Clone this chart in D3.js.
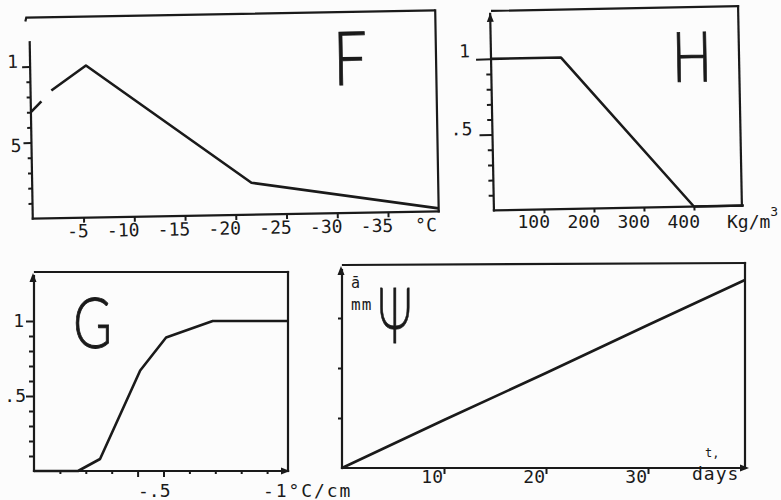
<!DOCTYPE html>
<html><head><meta charset="utf-8">
<script src="https://cdn.jsdelivr.net/npm/d3@7"></script>
<style>
html,body{margin:0;padding:0;background:#fcfcfc;}
svg{display:block;}
text{font-family:"DejaVu Sans Mono",monospace;fill:#1a1a1a;font-size:18px;}
</style></head><body>
<svg id="c" width="781" height="500"></svg>
<script>
// ---- Panel F : factor vs temperature ----
const fTemp   = [0, -1.05, -1.5, -2.05, -5.5, -21.6, -40];
const fFactor = [0.70, 0.77, null, 0.84, 1.0, 0.21, 0.02];
const fXTicks = [-5, -10, -15, -20, -25, -30, -35];
const fXTickLabels = ["-5", "-10", "-15", "-20", "-25", "-30", "-35"];
const fXUnit = "°C";
const fYTicks = [1, 0.5];
const fYTickLabels = ["1", "5"];
// ---- Panel H : factor vs density ----
const hDensity = [0, 140, 400, 500];
const hFactor  = [1, 1, 0, 0];
const hXTicks = [100, 200, 300, 400];
const hXTickLabels = ["100", "200", "300", "400"];
const hYTicks = [1, 0.5];
const hYTickLabels = ["1", ".5"];
// ---- Panel G : factor vs temperature gradient ----
const gGrad   = [0, 0.17, 0.255, 0.41, 0.51, 0.69, 0.98];
const gFactor = [0, 0, 0.08, 0.67, 0.89, 1.0, 1.0];
const gYTicks = [1, 0.5];
const gYTickLabels = ["1", ".5"];
const gXTickLabels = ["-.5"];
// ---- Panel Psi : mean grain size vs days ----
const pDays = [0, 10, 20, 30, 39.5];
const pSize = [0, 0.96, 1.9, 2.86, 3.76];
const pXTicks = [10, 20, 30];
const pXTickLabels = ["10", "20", "30"];
const pYTicks = [1, 2, 3];

const ink = "#1a1a1a";
const svg = d3.select("#c");

function tidy(sel){
  sel.select(".domain").remove();
  sel.selectAll(".tick text").remove();
  sel.selectAll(".tick line").attr("stroke",ink).attr("stroke-width",2);
}
function seg(g,x1,y1,x2,y2){
  return g.append("line").attr("x1",x1).attr("y1",y1).attr("x2",x2).attr("y2",y2)
    .attr("stroke",ink).attr("stroke-width",2.2).attr("stroke-linecap","square");
}
// arrowhead with tip at (x,y), pointing "up" or "right"
function arrowHead(g,x,y,dir){
  const L = 9, W = 3.5;
  const d = dir==="up"
    ? `M${x},${y}L${x-W},${y+L}L${x+W},${y+L}Z`
    : `M${x},${y}L${x-L},${y-W}L${x-L},${y+W}Z`;
  g.append("path").attr("d",d).attr("fill",ink);
}
function txt(g,x,y,s,anchor){
  return g.append("text").attr("x",x).attr("y",y).attr("text-anchor",anchor||"start").text(s);
}
function bigLetter(g,x,y,s,size,sx){
  return g.append("text").attr("transform",`translate(${x},${y}) scale(${sx},1)`)
    .style("font-family","Lato, 'DejaVu Sans', sans-serif").style("font-weight",300)
    .style("font-size",size+"px").style("fill",ink)
    .attr("stroke",ink).attr("stroke-width",0.9).text(s);
}
const minorTenths = d3.range(1,10).filter(i=>i!==5).map(i=>i/10);

// ================= F =================
{
  const g = svg.append("g").attr("transform","rotate(-1,233,115)");
  const x = d3.scaleLinear().domain([0,-40]).range([31,437]);
  const y = d3.scaleLinear().domain([0,1]).range([215,63]);
  seg(g,x(0),y(0),x(-40),y(0));
  seg(g,x(0),y(0),x(0),y(1.16));
  seg(g,x(-40),y(0),x(-40),14);
  g.append("path").attr("d",`M27,18L28,14H${x(-40)}`).attr("fill","none").attr("stroke",ink).attr("stroke-width",2.2);
  g.append("g").attr("transform",`translate(${x(0)},0)`).call(d3.axisLeft(y).tickValues(minorTenths).tickSize(4)).call(tidy);
  g.append("g").attr("transform",`translate(${x(0)},0)`).call(d3.axisLeft(y).tickValues(fYTicks).tickSize(8)).call(tidy);
  g.append("g").attr("transform",`translate(0,${y(0)})`).call(d3.axisBottom(x).tickValues(fXTicks).tickSize(5)).call(tidy);
  fXTicks.forEach((t,i)=>txt(g,x(t)+5,y(0)+19.5,fXTickLabels[i],"end"));
  txt(g,x(-40)-2,y(0)+19.5,fXUnit,"end");
  txt(g,19,y(fYTicks[0])+1,fYTickLabels[0],"end");
  txt(g,21,y(fYTicks[1])+9,fYTickLabels[1],"end");
  const line = d3.line().defined(d=>d[1]!=null).x(d=>x(d[0])).y(d=>y(d[1]));
  g.append("path").datum(fTemp.map((t,i)=>[t,fFactor[i]])).attr("d",line)
    .attr("fill","none").attr("stroke",ink).attr("stroke-width",2.6).attr("stroke-linejoin","round");
  bigLetter(g,334,87,"F",75,0.8);
}

// ================= H =================
{
  const g = svg.append("g").attr("transform","rotate(-1.1,615,108)");
  const x = d3.scaleLinear().domain([0,500]).range([492,742]);
  const y = d3.scaleLinear().domain([0,1]).range([208,56.5]);
  const right = 740, top = 8.5;
  seg(g,x(0),y(0),right,y(0));
  seg(g,x(0),y(0),x(0),top+3);
  arrowHead(g,x(0),top+2,"up");
  seg(g,x(0)+2,top,right,top);
  seg(g,right,top,right,y(0));
  g.append("g").attr("transform",`translate(${x(0)},0)`).call(d3.axisLeft(y).tickValues(minorTenths).tickSize(5)).call(tidy);
  g.append("g").attr("transform",`translate(${x(0)},0)`).call(d3.axisLeft(y).tickValues([hYTicks[0]]).tickSize(15)).call(tidy);
  g.append("g").attr("transform",`translate(${x(0)},0)`).call(d3.axisLeft(y).tickValues([hYTicks[1]]).tickSize(13)).call(tidy);
  g.append("g").attr("transform",`translate(0,${y(0)})`).call(d3.axisBottom(x).tickValues(hXTicks).tickSize(4)).call(tidy);
  txt(g,471,y(hYTicks[0])-2,hYTickLabels[0],"end");
  txt(g,472,y(hYTicks[1]),hYTickLabels[1],"end");
  const line = d3.line().x(d=>x(d[0])).y(d=>y(d[1]));
  g.append("path").datum(hDensity.map((t,i)=>[t,hFactor[i]])).attr("d",line)
    .attr("fill","none").attr("stroke",ink).attr("stroke-width",2.6).attr("stroke-linejoin","round");
  bigLetter(g,673,83,"H",70,0.75);
  hXTicks.forEach((t,i)=>txt(svg,x(t)+8,228,hXTickLabels[i],"end"));
  const ku = txt(svg,727,228,"Kg/m");
  ku.append("tspan").attr("dy",-12).style("font-size","13px").text("3");
}

// ================= G =================
{
  const g = svg.append("g");
  const x = d3.scaleLinear().domain([0,1]).range([34,293]);
  const y = d3.scaleLinear().domain([0,1]).range([471,321]);
  const right = 288, top = 272;
  seg(g,x(0),y(0),right-2,y(0));
  arrowHead(g,right+2,y(0),"right");
  seg(g,x(0),y(0),x(0),top+4);
  arrowHead(g,x(0)-1,top+1,"up");
  seg(g,x(0)+1,top,right,top);
  seg(g,right,top,right,y(0));
  g.append("g").attr("transform",`translate(${x(0)},0)`).call(d3.axisLeft(y).tickValues(minorTenths).tickSize(5)).call(tidy);
  g.append("g").attr("transform",`translate(${x(0)},0)`).call(d3.axisLeft(y).tickValues(gYTicks).tickSize(8)).call(tidy);
  g.append("g").attr("transform",`translate(0,${y(0)})`).call(d3.axisBottom(x).tickValues(minorTenths.filter(v=>v!==0.4)).tickSize(3)).call(tidy);
  g.append("g").attr("transform",`translate(0,${y(0)})`).call(d3.axisBottom(x).tickValues([0.4,0.5]).tickSize(6)).call(tidy);
  txt(g,24,y(gYTicks[0])+6,gYTickLabels[0],"end");
  txt(g,26,y(gYTicks[1])+6,gYTickLabels[1],"end");
  txt(g,x(0.5)+7,497,gXTickLabels[0],"end");
  txt(g,263,497,"-1°C/cm").attr("letter-spacing","1.9px");
  const line = d3.line().x(d=>x(d[0])).y(d=>y(d[1]));
  g.append("path").datum(gGrad.map((t,i)=>[t,gFactor[i]])).attr("d",line)
    .attr("fill","none").attr("stroke",ink).attr("stroke-width",2.6).attr("stroke-linejoin","round");
  bigLetter(g,73,348,"G",71,0.75);
}

// ================= Psi =================
{
  const g = svg.append("g");
  const x = d3.scaleLinear().domain([0,40]).range([342,750]);
  const y = d3.scaleLinear().domain([0,4]).range([468,268]);
  const right = 745;
  seg(g,x(0),y(0),right,y(0));
  arrowHead(g,right+4,y(0),"right");
  seg(g,x(0),y(0),x(0),270);
  arrowHead(g,x(0)-1,266,"up");
  seg(g,x(0)+1,265,right,263);
  seg(g,right,263,right,y(0));
  g.append("g").attr("transform",`translate(${x(0)},0)`).call(d3.axisLeft(y).tickValues(pYTicks).tickSize(4)).call(tidy);
  g.append("g").attr("transform",`translate(0,${y(0)})`).call(d3.axisBottom(x).tickValues(pXTicks).tickSize(6)).call(tidy);
  pXTicks.forEach((t,i)=>txt(g,x(t)-1,483,pXTickLabels[i],"end"));
  txt(g,692,480,"days").attr("letter-spacing","1px");
  txt(g,705,457,"t,").style("font-size","12px");
  txt(g,351,288,"ā").style("font-size","15px");
  txt(g,351,310,"mm").style("font-size","16px").attr("letter-spacing","1px");
  const line = d3.line().x(d=>x(d[0])).y(d=>y(d[1]));
  g.append("path").datum(pDays.map((t,i)=>[t,pSize[i]])).attr("d",line)
    .attr("fill","none").attr("stroke",ink).attr("stroke-width",2.6).attr("stroke-linejoin","round");
  bigLetter(g,378,343,"Ψ",77,0.55);
}
</script>
</body></html>
